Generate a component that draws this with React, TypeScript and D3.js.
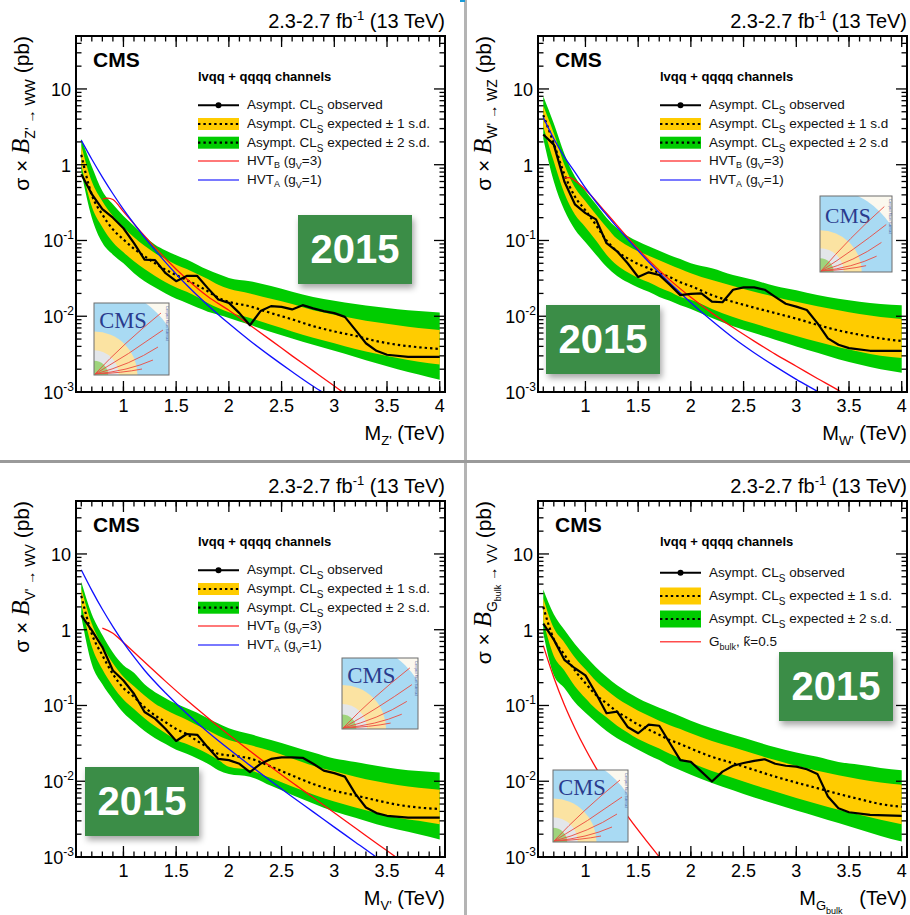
import React from 'react';
import * as d3 from 'd3';

const FONT = '"Liberation Sans", Arial, Helvetica, sans-serif';
const SERIF = '"Liberation Serif", "Times New Roman", serif';

// resonance mass grid (TeV) for the expected limit and its bands
const bandMass = [0.6, 0.7, 0.8, 0.9, 1.0, 1.1, 1.2, 1.3, 1.4, 1.5, 1.6, 1.7, 1.8, 1.9, 2.0, 2.2, 2.4, 2.6, 2.8, 3.0, 3.2, 3.4, 3.6, 3.8, 4.0];
// mass grid for the observed limit
const obsMass = [0.6, 0.7, 0.8, 0.9, 1.0, 1.1, 1.2, 1.3, 1.4, 1.5, 1.6, 1.7, 1.8, 1.9, 2.0, 2.1, 2.2, 2.3, 2.4, 2.5, 2.6, 2.7, 2.8, 2.9, 3.0, 3.1, 3.2, 3.3, 3.4, 3.5, 3.7, 4.0];

// ---- Z' -> WW ----
const zwwObs = [0.75, 0.41, 0.26, 0.2, 0.145, 0.092, 0.056, 0.055, 0.037, 0.029, 0.034, 0.034, 0.0235, 0.0166, 0.015, 0.011, 0.0076, 0.0117, 0.0136, 0.0133, 0.0123, 0.014, 0.0127, 0.0117, 0.011, 0.0098, 0.0066, 0.0044, 0.0035, 0.0031, 0.0029, 0.0029];
const zwwExp = [1.35, 0.4, 0.22, 0.14, 0.103, 0.078, 0.062, 0.05, 0.041, 0.035, 0.03, 0.0256, 0.0214, 0.0175, 0.0155, 0.0135, 0.011, 0.0091, 0.0074, 0.0063, 0.0055, 0.0047, 0.0042, 0.0039, 0.0037];
const zwwUp1 = [1.8, 0.6, 0.33, 0.21, 0.15, 0.11, 0.085, 0.068, 0.057, 0.048, 0.042, 0.036, 0.031, 0.026, 0.023, 0.02, 0.017, 0.0145, 0.012, 0.0105, 0.0093, 0.0083, 0.0076, 0.007, 0.0066];
const zwwDn1 = [1.0, 0.28, 0.15, 0.095, 0.07, 0.053, 0.042, 0.034, 0.028, 0.024, 0.021, 0.018, 0.015, 0.0128, 0.0113, 0.0095, 0.0077, 0.0063, 0.0052, 0.0044, 0.0037, 0.0032, 0.0028, 0.0025, 0.0023];
const zwwUp2 = [2.2, 0.95, 0.45, 0.3, 0.21, 0.155, 0.115, 0.088, 0.074, 0.064, 0.056, 0.048, 0.041, 0.036, 0.032, 0.029, 0.025, 0.021, 0.018, 0.016, 0.0145, 0.0133, 0.0124, 0.0117, 0.0112];
const zwwDn2 = [0.8, 0.2, 0.093, 0.065, 0.05, 0.037, 0.029, 0.024, 0.02, 0.017, 0.015, 0.013, 0.0115, 0.0105, 0.0095, 0.0077, 0.0062, 0.0051, 0.0042, 0.0035, 0.0029, 0.0024, 0.002, 0.0017, 0.00145];
const zwwHvtBMass = [0.8, 0.85, 0.9, 1.0, 1.2, 1.4, 1.6, 1.8, 2.0, 2.2, 2.4, 2.6, 2.8, 3.0, 3.1];
const zwwHvtB = [0.35, 0.363, 0.347, 0.24, 0.115, 0.0575, 0.031, 0.0182, 0.012, 0.0076, 0.0048, 0.003, 0.0019, 0.0012, 0.00095];
const zwwHvtAMass = [0.6, 0.7, 0.8, 0.9, 1.0, 1.1, 1.2, 1.4, 1.6, 1.8, 2.0, 2.2, 2.4, 2.6, 2.8, 2.9];
const zwwHvtA = [2.1, 1.18, 0.687, 0.414, 0.258, 0.167, 0.11, 0.0515, 0.0258, 0.014, 0.008, 0.00475, 0.00293, 0.00185, 0.00119, 0.00097];

// ---- W' -> WZ ----
const wwzObs = [2.5, 1.84, 0.6, 0.3, 0.23, 0.19, 0.092, 0.072, 0.05, 0.033, 0.038, 0.035, 0.026, 0.019, 0.0197, 0.02, 0.0156, 0.0153, 0.0224, 0.024, 0.024, 0.0224, 0.018, 0.0146, 0.0134, 0.0121, 0.0081, 0.0051, 0.0042, 0.0038, 0.0035, 0.0035];
const wwzExp = [4.5, 1.9, 0.75, 0.38, 0.25, 0.16, 0.1, 0.072, 0.058, 0.049, 0.043, 0.037, 0.033, 0.028, 0.025, 0.019, 0.0155, 0.013, 0.011, 0.0093, 0.0077, 0.0065, 0.0057, 0.0051, 0.0047];
const wwzUp1 = [6.0, 2.6, 1.0, 0.5, 0.33, 0.22, 0.15, 0.105, 0.085, 0.072, 0.063, 0.055, 0.048, 0.042, 0.037, 0.03, 0.025, 0.021, 0.018, 0.0155, 0.0135, 0.012, 0.0107, 0.0098, 0.0092];
const wwzDn1 = [3.2, 1.1, 0.42, 0.22, 0.15, 0.1, 0.065, 0.047, 0.038, 0.032, 0.028, 0.024, 0.021, 0.018, 0.0165, 0.0125, 0.0098, 0.008, 0.0066, 0.0055, 0.0046, 0.0039, 0.0034, 0.003, 0.0028];
const wwzUp2 = [8.0, 3.5, 1.4, 0.7, 0.45, 0.3, 0.2, 0.145, 0.115, 0.097, 0.084, 0.073, 0.064, 0.057, 0.05, 0.043, 0.035, 0.03, 0.025, 0.022, 0.019, 0.017, 0.0155, 0.0145, 0.014];
const wwzDn2 = [2.2, 0.6, 0.25, 0.14, 0.095, 0.065, 0.045, 0.034, 0.028, 0.024, 0.021, 0.018, 0.016, 0.014, 0.0125, 0.0095, 0.0074, 0.006, 0.0049, 0.004, 0.0033, 0.0027, 0.0023, 0.002, 0.0018];
const wwzHvtBMass = [0.8, 0.85, 0.9, 1.0, 1.2, 1.4, 1.6, 1.8, 2.0, 2.2, 2.4, 2.6, 2.8, 3.0, 3.2, 3.4, 3.45];
const wwzHvtB = [0.67, 0.676, 0.617, 0.468, 0.229, 0.11, 0.055, 0.0302, 0.0178, 0.011, 0.0071, 0.0047, 0.00316, 0.00219, 0.00151, 0.00105, 0.00095];
const wwzHvtAMass = [0.6, 0.7, 0.8, 0.9, 1.0, 1.1, 1.2, 1.4, 1.6, 1.8, 2.0, 2.2, 2.4, 2.6, 2.8, 3.0, 3.2, 3.25];
const wwzHvtA = [4.2, 2.2, 1.27, 0.8, 0.493, 0.322, 0.218, 0.104, 0.052, 0.0274, 0.0151, 0.0087, 0.0052, 0.0033, 0.00218, 0.00147, 0.00102, 0.00093];

// ---- V' -> WV ----
const vwvObs = [1.55, 0.98, 0.59, 0.29, 0.214, 0.143, 0.082, 0.067, 0.049, 0.034, 0.042, 0.041, 0.028, 0.0197, 0.019, 0.017, 0.0132, 0.017, 0.0197, 0.0207, 0.0207, 0.0204, 0.017, 0.0138, 0.0128, 0.0115, 0.0068, 0.0045, 0.0038, 0.0035, 0.0033, 0.0033];
const vwvExp = [2.8, 0.88, 0.46, 0.26, 0.17, 0.13, 0.095, 0.074, 0.06, 0.049, 0.042, 0.034, 0.028, 0.023, 0.022, 0.02, 0.0156, 0.0119, 0.0092, 0.0075, 0.0065, 0.0056, 0.0049, 0.0045, 0.0043];
const vwvUp1 = [3.5, 1.2, 0.62, 0.36, 0.24, 0.18, 0.135, 0.105, 0.088, 0.075, 0.065, 0.055, 0.047, 0.04, 0.035, 0.03, 0.025, 0.02, 0.016, 0.0135, 0.0115, 0.01, 0.0089, 0.0082, 0.0077];
const vwvDn1 = [2.2, 0.6, 0.3, 0.18, 0.12, 0.09, 0.068, 0.053, 0.043, 0.035, 0.031, 0.027, 0.023, 0.019, 0.0155, 0.014, 0.011, 0.0085, 0.0067, 0.0054, 0.0045, 0.0038, 0.0033, 0.003, 0.0027];
const vwvUp2 = [4.3, 1.6, 0.85, 0.5, 0.34, 0.27, 0.19, 0.15, 0.125, 0.105, 0.092, 0.08, 0.068, 0.058, 0.05, 0.042, 0.035, 0.029, 0.024, 0.02, 0.018, 0.016, 0.0145, 0.0136, 0.013];
const vwvDn2 = [1.5, 0.35, 0.19, 0.12, 0.08, 0.06, 0.046, 0.037, 0.031, 0.026, 0.023, 0.02, 0.017, 0.014, 0.0125, 0.0115, 0.0087, 0.0066, 0.0051, 0.004, 0.0033, 0.0027, 0.0023, 0.002, 0.0017];
const vwvHvtBMass = [0.8, 0.9, 1.0, 1.2, 1.4, 1.6, 1.8, 2.0, 2.2, 2.4, 2.6, 2.8, 3.0, 3.2, 3.4, 3.6, 3.65];
const vwvHvtB = [1.05, 0.9, 0.68, 0.374, 0.208, 0.118, 0.0689, 0.041, 0.025, 0.0154, 0.0096, 0.0061, 0.00383, 0.00242, 0.00152, 0.00096, 0.00085];
const vwvHvtAMass = [0.6, 0.7, 0.8, 0.9, 1.0, 1.1, 1.2, 1.4, 1.6, 1.8, 2.0, 2.2, 2.4, 2.6, 2.8, 3.0, 3.2, 3.4, 3.45];
const vwvHvtA = [6.17, 3.31, 1.86, 1.1, 0.676, 0.437, 0.292, 0.146, 0.0785, 0.0447, 0.0266, 0.0162, 0.01, 0.00624, 0.00394, 0.00248, 0.00157, 0.00099, 0.00088];

// ---- G_bulk -> VV ----
const gvvObs = [1.2, 0.74, 0.4, 0.31, 0.25, 0.144, 0.079, 0.083, 0.052, 0.043, 0.056, 0.054, 0.032, 0.019, 0.018, 0.0134, 0.0099, 0.0134, 0.016, 0.0174, 0.0186, 0.0195, 0.017, 0.016, 0.0156, 0.0144, 0.0125, 0.0063, 0.0044, 0.0039, 0.0036, 0.0035];
const gvvExp = [2.0, 0.75, 0.47, 0.29, 0.197, 0.138, 0.107, 0.083, 0.068, 0.056, 0.048, 0.041, 0.035, 0.031, 0.027, 0.021, 0.0173, 0.0141, 0.0115, 0.0096, 0.0081, 0.0068, 0.0058, 0.005, 0.0046];
const gvvUp1 = [2.6, 1.05, 0.68, 0.43, 0.3, 0.21, 0.16, 0.125, 0.102, 0.085, 0.073, 0.063, 0.055, 0.049, 0.043, 0.034, 0.028, 0.023, 0.019, 0.016, 0.0138, 0.012, 0.0106, 0.0096, 0.009];
const gvvDn1 = [1.3, 0.45, 0.29, 0.18, 0.125, 0.09, 0.07, 0.054, 0.044, 0.036, 0.031, 0.027, 0.023, 0.02, 0.0175, 0.0136, 0.011, 0.0089, 0.0073, 0.006, 0.005, 0.0042, 0.0036, 0.0031, 0.0027];
const gvvUp2 = [3.4, 1.6, 1.0, 0.65, 0.45, 0.32, 0.24, 0.185, 0.15, 0.125, 0.107, 0.093, 0.082, 0.072, 0.063, 0.05, 0.041, 0.034, 0.028, 0.024, 0.021, 0.018, 0.0165, 0.015, 0.014];
const gvvDn2 = [0.9, 0.25, 0.17, 0.11, 0.08, 0.06, 0.046, 0.037, 0.031, 0.026, 0.022, 0.019, 0.016, 0.014, 0.0122, 0.0095, 0.0076, 0.0061, 0.005, 0.0041, 0.0034, 0.0028, 0.0023, 0.0019, 0.0016];
const gvvBulkMass = [0.6, 0.7, 0.8, 0.9, 1.0, 1.1, 1.2, 1.3, 1.4, 1.5, 1.6, 1.7, 1.72];
const gvvBulk = [0.617, 0.234, 0.102, 0.0501, 0.0266, 0.015, 0.0088, 0.00543, 0.00347, 0.00226, 0.0015, 0.001, 0.00092];

const xMajor = [1, 1.5, 2, 2.5, 3, 3.5, 4];
const yLabels = [
  { v: 10, base: '10', exp: '' },
  { v: 1, base: '1', exp: '' },
  { v: 0.1, base: '10', exp: '-1' },
  { v: 0.01, base: '10', exp: '-2' },
  { v: 0.001, base: '10', exp: '-3' },
];

const RED = '#ff1010';
const BLUE = '#1010ff';
const YELLOW = '#ffcc00';
const GREEN = '#00cc00';

type Seg = { t: string; dy?: number; size?: number; italic?: boolean; family?: string; bold?: boolean };

function rich(segs: Seg[], base: number) {
  let cur = 0;
  return segs.map((s, i) => {
    const target = s.dy ?? 0;
    const d = target - cur;
    cur = target;
    return (
      <tspan key={i} dy={d} fontSize={s.size ?? base} fontStyle={s.italic ? 'italic' : undefined}
        fontFamily={s.family} fontWeight={s.bold ? 'bold' : undefined}>{s.t}</tspan>
    );
  });
}

const clSub = (rest: string): Seg[] => [
  { t: 'Asympt. CL' }, { t: 'S', dy: 5, size: 10 }, { t: rest, dy: 0 },
];

function Logo({ x, y, w, h, id }: { x: number; y: number; w: number; h: number; id: string }) {
  const cx = x, cy = y + h;
  const tracks = [
    [30, 40, 67, 10], [34, 52, 69, 27], [36, 62, 64, 44], [34, 68, 59, 57], [28, 70, 48, 66],
  ];
  return (
    <g>
      <defs>
        <clipPath id={id}><rect x={x} y={y} width={w} height={h} /></clipPath>
      </defs>
      <g clipPath={`url(#${id})`}>
        <rect x={x} y={y} width={w} height={h} fill="#fbf8ee" />
        <circle cx={cx} cy={cy} r={w * 1.18} fill="#a9daf3" />
        <circle cx={cx} cy={cy} r={w * 0.58} fill="#fbe3a2" />
        <circle cx={cx} cy={cy} r={w * 0.33} fill="#e3e6ea" />
        <circle cx={cx} cy={cy} r={w * 0.19} fill="#9fd47c" />
        <text x={x + w * 0.07} y={y + h * 0.35} fontFamily={SERIF} fontSize={w * 0.3} fill="#2a3b8d">CMS</text>
        {tracks.map((t, i) => (
          <path key={i} d={`M${cx + 1},${cy - 1} Q${x + (t[0] / 75) * w},${y + (t[1] / 72) * h} ${x + (t[2] / 75) * w},${y + (t[3] / 72) * h}`}
            fill="none" stroke="#ec4a3e" strokeWidth={0.9} />
        ))}
        <text transform={`translate(${x + w * 0.955},${y + 3}) rotate(90)`} fontFamily={FONT} fontSize={3.2} fill="#3a4fa0">Compact Muon Solenoid</text>
      </g>
      <rect x={x} y={y} width={w} height={h} fill="none" stroke="#6d6d6d" strokeWidth={1} />
    </g>
  );
}

function Badge({ x, y }: { x: number; y: number }) {
  const w = 114, h = 69;
  return (
    <g>
      <rect x={x} y={y} width={w} height={h} fill="#3a8d46" filter="url(#badgeShadow)" />
      <text x={x + w / 2} y={y + 48} textAnchor="middle" fontFamily={FONT} fontWeight="bold" fontSize={40} fill="#ffffff">2015</text>
    </g>
  );
}

type PanelCfg = {
  id: string; left: number; top: number;
  obs: number[]; exp: number[]; up1: number[]; dn1: number[]; up2: number[]; dn2: number[];
  theory: { mass: number[]; xs: number[]; color: string }[];
  sd: string; kind: 'hvt' | 'bulk';
  yTitle: Seg[]; xTitle: Seg[];
  badge: [number, number]; logo: [number, number, number, number];
};

const bSeg: Seg = { t: 'B', italic: true, family: SERIF, size: 25 };

const panels: PanelCfg[] = [
  {
    id: 'zww', left: 76, top: 36, obs: zwwObs, exp: zwwExp, up1: zwwUp1, dn1: zwwDn1, up2: zwwUp2, dn2: zwwDn2,
    theory: [{ mass: zwwHvtBMass, xs: zwwHvtB, color: RED }, { mass: zwwHvtAMass, xs: zwwHvtA, color: BLUE }],
    sd: 's.d.', kind: 'hvt',
    yTitle: [{ t: 'σ × ' }, bSeg, { t: "Z' → WW", dy: 6, size: 14 }, { t: ' (pb)', dy: 0 }],
    xTitle: [{ t: 'M' }, { t: "Z'", dy: 5, size: 13 }, { t: ' (TeV)', dy: 0 }],
    badge: [298, 215], logo: [94, 303, 75, 72],
  },
  {
    id: 'wwz', left: 538, top: 36, obs: wwzObs, exp: wwzExp, up1: wwzUp1, dn1: wwzDn1, up2: wwzUp2, dn2: wwzDn2,
    theory: [{ mass: wwzHvtBMass, xs: wwzHvtB, color: RED }, { mass: wwzHvtAMass, xs: wwzHvtA, color: BLUE }],
    sd: 's.d', kind: 'hvt',
    yTitle: [{ t: 'σ × ' }, bSeg, { t: "W' → WZ", dy: 6, size: 14 }, { t: ' (pb)', dy: 0 }],
    xTitle: [{ t: 'M' }, { t: "W'", dy: 5, size: 13 }, { t: ' (TeV)', dy: 0 }],
    badge: [546, 305], logo: [820, 196, 72, 76],
  },
  {
    id: 'vwv', left: 76, top: 501, obs: vwvObs, exp: vwvExp, up1: vwvUp1, dn1: vwvDn1, up2: vwvUp2, dn2: vwvDn2,
    theory: [{ mass: vwvHvtBMass, xs: vwvHvtB, color: RED }, { mass: vwvHvtAMass, xs: vwvHvtA, color: BLUE }],
    sd: 's.d.', kind: 'hvt',
    yTitle: [{ t: 'σ × ' }, bSeg, { t: "V' → WV", dy: 6, size: 14 }, { t: ' (pb)', dy: 0 }],
    xTitle: [{ t: 'M' }, { t: "V'", dy: 5, size: 13 }, { t: ' (TeV)', dy: 0 }],
    badge: [85, 767], logo: [342, 658, 76, 71],
  },
  {
    id: 'gvv', left: 538, top: 501, obs: gvvObs, exp: gvvExp, up1: gvvUp1, dn1: gvvDn1, up2: gvvUp2, dn2: gvvDn2,
    theory: [{ mass: gvvBulkMass, xs: gvvBulk, color: RED }],
    sd: 's.d.', kind: 'bulk',
    yTitle: [{ t: 'σ × ' }, bSeg, { t: 'G', dy: 6, size: 14 }, { t: 'bulk', dy: 10, size: 9 }, { t: ' → VV', dy: 6, size: 14 }, { t: ' (pb)', dy: 0 }],
    xTitle: [{ t: 'M' }, { t: 'G', dy: 5, size: 13 }, { t: 'bulk', dy: 9, size: 9 }, { t: '   (TeV)', dy: 0 }],
    badge: [779, 652], logo: [553, 770, 75, 72],
  },
];

const PW = 369, PH = 356;

function Panel({ p }: { p: PanelCfg }) {
  const L = p.left, T = p.top, R = L + PW, B = T + PH;
  const x = d3.scaleLinear().domain([0.55, 4.05]).range([L, R]);
  const y = d3.scaleLog().domain([1e-3, 50]).range([B, T]);

  const band = (lo: number[], hi: number[]) =>
    d3.area<number>().x((m) => x(m)).y0((_, i) => y(lo[i])).y1((_, i) => y(hi[i])).curve(d3.curveMonotoneX)(bandMass) as string;
  const line = d3.line<[number, number]>().x((d) => x(d[0])).y((d) => y(d[1]));
  const smooth = d3.line<[number, number]>().x((d) => x(d[0])).y((d) => y(d[1])).curve(d3.curveMonotoneX);

  const xMinor = d3.range(6, 41).map((k) => k / 10);
  const yMinor: number[] = [];
  for (let e = -3; e <= 1; e++) for (let k = 2; k <= 9; k++) if (k * 10 ** e <= 50) yMinor.push(k * 10 ** e);

  const clip = `clip-${p.id}`;
  const lx = L + 122, tx = L + 171;
  const rows = p.kind === 'hvt' ? [69.3, 88, 106.7, 125, 144] : [71.7, 95, 118, 140.7];
  const boxH = p.kind === 'hvt' ? 12 : 17;
  const legendText: Seg[][] = p.kind === 'hvt'
    ? [
      clSub(' observed'),
      clSub(` expected ± 1 ${p.sd}`),
      clSub(` expected ± 2 ${p.sd}`),
      [{ t: 'HVT' }, { t: 'B', dy: 3, size: 9 }, { t: ' (g', dy: 0 }, { t: 'V', dy: 4, size: 9 }, { t: '=3)', dy: 0 }],
      [{ t: 'HVT' }, { t: 'A', dy: 3, size: 9 }, { t: ' (g', dy: 0 }, { t: 'V', dy: 4, size: 9 }, { t: '=1)', dy: 0 }],
    ]
    : [
      clSub(' observed'),
      clSub(` expected ± 1 ${p.sd}`),
      clSub(` expected ± 2 ${p.sd}`),
      [{ t: 'G' }, { t: 'bulk', dy: 4, size: 9 }, { t: ', k\u0303=0.5', dy: 0 }],
    ];

  return (
    <g>
      <defs>
        <clipPath id={clip}><rect x={L} y={T} width={PW} height={PH} /></clipPath>
      </defs>
      <g clipPath={`url(#${clip})`}>
        <path d={band(p.dn2, p.up2)} fill={GREEN} />
        <path d={band(p.dn1, p.up1)} fill={YELLOW} />
        <path d={smooth(bandMass.map((m, i) => [m, p.exp[i]]) as [number, number][]) as string}
          fill="none" stroke="#000" strokeWidth={2.2} strokeDasharray="2.4 3" />
        {p.theory.map((t, k) => (
          <path key={k} d={smooth(t.mass.map((m, i) => [m, t.xs[i]]) as [number, number][]) as string}
            fill="none" stroke={t.color} strokeWidth={1.3} />
        ))}
        <path d={line(obsMass.map((m, i) => [m, p.obs[i]]) as [number, number][]) as string}
          fill="none" stroke="#000" strokeWidth={2.2} strokeLinejoin="round" />
      </g>

      {/* ticks */}
      <g stroke="#000" strokeWidth={1.3}>
        {xMinor.map((m) => (
          <g key={`xm${m}`}>
            <line x1={x(m)} x2={x(m)} y1={B} y2={B - 5.5} />
            <line x1={x(m)} x2={x(m)} y1={T} y2={T + 5.5} />
          </g>
        ))}
        {xMajor.map((m) => (
          <g key={`xM${m}`}>
            <line x1={x(m)} x2={x(m)} y1={B} y2={B - 11} />
            <line x1={x(m)} x2={x(m)} y1={T} y2={T + 11} />
          </g>
        ))}
        {yMinor.map((v) => (
          <g key={`ym${v}`}>
            <line x1={L} x2={L + 5.5} y1={y(v)} y2={y(v)} />
            <line x1={R} x2={R - 5.5} y1={y(v)} y2={y(v)} />
          </g>
        ))}
        {yLabels.map((l) => (
          <g key={`yM${l.v}`}>
            <line x1={L} x2={L + 11} y1={y(l.v)} y2={y(l.v)} />
            <line x1={R} x2={R - 11} y1={y(l.v)} y2={y(l.v)} />
          </g>
        ))}
      </g>
      <rect x={L} y={T} width={PW} height={PH} fill="none" stroke="#000" strokeWidth={2} />

      {/* tick labels */}
      {xMajor.map((m) => (
        <text key={`xl${m}`} x={x(m)} y={B + 20} textAnchor="middle" fontFamily={FONT} fontSize={18}>{String(m)}</text>
      ))}
      {yLabels.map((l) => (
        <text key={`yl${l.v}`} x={l.exp ? L - 2 : L - 5} y={y(l.v) + 7} textAnchor="end" fontFamily={FONT} fontSize={18}>
          {l.base}
          {l.exp ? <tspan dy={-8} fontSize={12}>{l.exp}</tspan> : null}
        </text>
      ))}

      {/* titles */}
      <text x={R} y={T - 8} textAnchor="end" fontFamily={FONT} fontSize={20} style={{ whiteSpace: 'pre' }}>
        {rich([{ t: '2.3-2.7 fb' }, { t: '-1', dy: -8, size: 13 }, { t: ' (13 TeV)', dy: 0 }], 20)}
      </text>
      <text x={R} y={B + 48} textAnchor="end" fontFamily={FONT} fontSize={20} style={{ whiteSpace: 'pre' }}>
        {rich(p.xTitle, 20)}
      </text>
      <text transform="rotate(-90)" x={-T} y={L - 47} textAnchor="end" fontFamily={FONT} fontSize={21} style={{ whiteSpace: 'pre' }}>
        {rich(p.yTitle, 21)}
      </text>

      <text x={L + 17} y={T + 31} fontFamily={FONT} fontWeight="bold" fontSize={21}>CMS</text>
      <text x={lx} y={T + 45} fontFamily={FONT} fontWeight="bold" fontSize={13}>lvqq + qqqq channels</text>

      {/* legend */}
      <line x1={lx} x2={lx + 41} y1={T + rows[0]} y2={T + rows[0]} stroke="#000" strokeWidth={2} />
      <circle cx={lx + 20.5} cy={T + rows[0]} r={3} fill="#000" />
      <rect x={lx} y={T + rows[1] - boxH / 2} width={41} height={boxH} fill={YELLOW} />
      <line x1={lx} x2={lx + 41} y1={T + rows[1]} y2={T + rows[1]} stroke="#000" strokeWidth={2.2} strokeDasharray="2.4 3" />
      <rect x={lx} y={T + rows[2] - boxH / 2} width={41} height={boxH} fill={GREEN} />
      <line x1={lx} x2={lx + 41} y1={T + rows[2]} y2={T + rows[2]} stroke="#000" strokeWidth={2.2} strokeDasharray="2.4 3" />
      {p.theory.map((t, k) => (
        <line key={k} x1={lx} x2={lx + 41} y1={T + rows[3 + k]} y2={T + rows[3 + k]} stroke={t.color} strokeOpacity={0.75} strokeWidth={1.6} />
      ))}
      {legendText.map((segs, i) => (
        <text key={i} x={tx} y={T + rows[i] + 4} fontFamily={FONT} fontSize={13.5} fill="#111" style={{ whiteSpace: 'pre' }}>
          {rich(segs, 13.5)}
        </text>
      ))}

      <Logo x={p.logo[0]} y={p.logo[1]} w={p.logo[2]} h={p.logo[3]} id={`logo-${p.id}`} />
      <Badge x={p.badge[0]} y={p.badge[1]} />
    </g>
  );
}

export default function App() {
  return (
    <svg width={910} height={915} viewBox="0 0 910 915" style={{ position: 'absolute', left: 0, top: 0, background: '#fff' }}>
      <defs>
        <filter id="badgeShadow" x="-20%" y="-20%" width="150%" height="160%">
          <feDropShadow dx={2} dy={4} stdDeviation={3} floodColor="#000" floodOpacity={0.35} />
        </filter>
      </defs>
      <rect x={0} y={0} width={910} height={915} fill="#fff" />
      <line x1={465.5} x2={465.5} y1={0} y2={915} stroke="#b4b4b4" strokeWidth={3} />
      <line x1={0} x2={910} y1={461.5} y2={461.5} stroke="#9a9a9a" strokeWidth={3} />
      <rect x={460} y={0} width={5} height={2} fill="#1a9bd7" />
      {panels.map((p) => <Panel key={p.id} p={p} />)}
    </svg>
  );
}
